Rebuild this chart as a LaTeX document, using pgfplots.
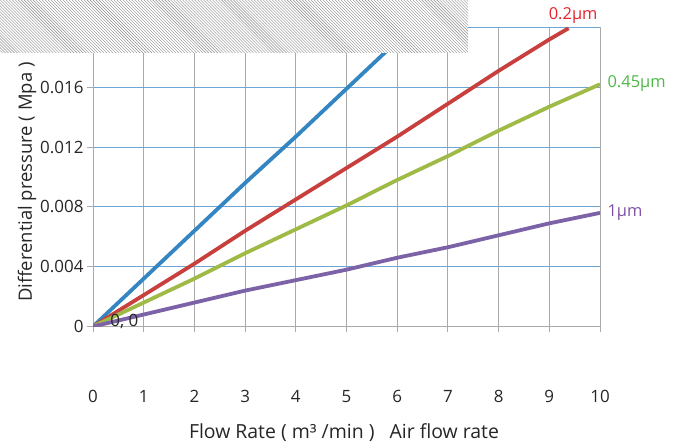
\documentclass[border=0pt]{standalone}
\usepackage{pgfplots}
\pgfplotsset{compat=1.18}
\usepackage{fontspec}
\setmainfont{Open Sans}
\usetikzlibrary{patterns}

\definecolor{cblue}{RGB}{52,134,194}
\definecolor{cred}{RGB}{200,64,62}
\definecolor{cgreen}{RGB}{160,186,72}
\definecolor{cpurple}{RGB}{124,98,166}
\definecolor{gridblue}{RGB}{110,165,212}
\definecolor{gridgray}{RGB}{170,170,170}
\definecolor{lblred}{RGB}{232,34,44}
\definecolor{lblgreen}{RGB}{78,184,72}
\definecolor{lblpurple}{RGB}{126,80,164}

\begin{document}
\begin{tikzpicture}[x=1bp,y=1bp]
\path[use as bounding box] (0,0) rectangle (679,445);
\begin{axis}[
    at={(93bp,118.5bp)}, anchor=south west,
    scale only axis,
    width=507bp, height=299bp,
    xmin=0, xmax=10, ymin=0, ymax=0.02,
    xtick={0,1,...,10},
    ytick={0,0.004,0.008,0.012,0.016,0.02},
    yticklabels={0,0.004,0.008,0.012,0.016,0.02},
    scaled y ticks=false,
    axis lines=left, axis line style={-, gridgray, line width=1bp},
    tick align=outside, major tick length=6bp,
    tick style={gridgray, line width=1bp},
    xmajorgrids, ymajorgrids,
    major x grid style={gridgray, line width=1bp},
    major y grid style={gridblue, line width=0.9bp},
    ticklabel style={font=\fontsize{17}{20}\selectfont, text=black!85},
    /pgf/number format/assume math mode=true,
    xticklabel shift=54bp,
    clip mode=individual,
    every axis plot/.append style={line width=3.8bp, line join=round},
]
\addplot[cblue] coordinates {
(0,0) (1,0.0032) (2,0.0064) (3,0.0096) (4,0.0127) (5,0.0159) (6,0.0191) (6.3,0.0200)
};
\addplot[cred] coordinates {
(0,0) (1,0.0021) (2,0.0042) (3,0.0064) (4,0.0085) (5,0.0106) (6,0.0127) (7,0.0149) (8,0.0171) (9,0.0192) (9.38,0.01995)
};
\addplot[cgreen] coordinates {
(0,0) (1,0.0016) (2,0.0032) (3,0.0049) (4,0.0065) (5,0.0081) (6,0.0098) (7,0.0114) (8,0.0131) (9,0.0147) (10,0.0162)
};
\addplot[cpurple] coordinates {
(0,0) (1,0.0008) (2,0.0016) (3,0.0024) (4,0.0031) (5,0.0038) (6,0.0046) (7,0.0053) (8,0.0061) (9,0.0069) (10,0.0076)
};
\node[font=\fontsize{17}{20}\selectfont, text=black!85] at (axis cs:0.62,0.00037) {0, 0};
\node[font=\fontsize{16.5}{19}\selectfont, text=lblred] at (axis cs:9.47,0.02077) {0.2µm};
\node[font=\fontsize{16.5}{19}\selectfont, text=lblgreen, anchor=west] at (axis cs:10.08,0.01622) {0.45µm};
\node[font=\fontsize{16.5}{19}\selectfont, text=lblpurple, anchor=west] at (axis cs:10.08,0.00759) {1µm};
\end{axis}
\node[font=\fontsize{19.5}{22}\selectfont, text=black!85] at (344,12) {Flow Rate\ (\ m³ /min\ )\ \ \ Air flow rate};
\node[font=\fontsize{18.5}{22}\selectfont, text=black!85, rotate=90] at (27,263) {Differential pressure\ (\ Mpa\ )};
% scanned texture strip at the top left
\fill[white] (0,392) rectangle (468,445);
\fill[pattern=north west lines, pattern color=black!45] (0,392) rectangle (468,445);
\end{tikzpicture}
\end{document}
